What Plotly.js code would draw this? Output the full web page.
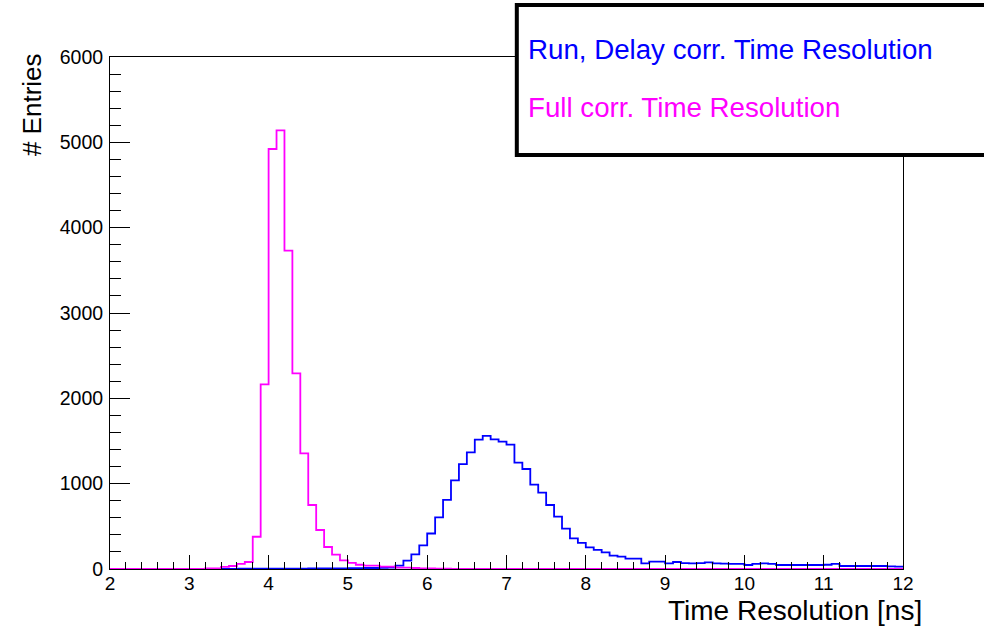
<!DOCTYPE html>
<html>
<head>
<meta charset="utf-8">
<script src="https://cdn.plot.ly/plotly-3.0.1.min.js"></script>
<style>
  html, body { margin: 0; padding: 0; background: #ffffff; }
  #plot { width: 984px; height: 629px; }
</style>
</head>
<body>
<div id="plot"></div>
<script>
// Histogram binning: 100 bins of 0.1 ns from 2 to 12 ns
const xMin = 2.0;
const binWidth = 0.1;

// Entries per bin, run + delay corrected time resolution
const runDelayCorr = [
  0, 0, 0, 0, 0, 0, 0, 0, 0, 0,
  0, 0, 0, 0, 2, 2, 3, 3, 3, 4,
  4, 4, 5, 5, 5, 6, 6, 7, 7, 8,
  9, 10, 12, 12, 14, 16, 39, 98, 172, 277,
  416, 605, 809, 1039, 1230, 1367, 1516, 1559, 1520, 1492,
  1457, 1246, 1172, 988, 894, 750, 613, 472, 359, 305,
  254, 223, 195, 156, 144, 121, 121, 66, 86, 86,
  66, 82, 68, 66, 70, 78, 66, 64, 59, 59,
  47, 59, 66, 59, 47, 47, 47, 47, 47, 47,
  50, 59, 35, 35, 35, 35, 35, 35, 31, 27
];

// Entries per bin, fully corrected time resolution
const fullCorr = [
  0, 0, 0, 0, 0, 0, 0, 0, 0, 0,
  0, 0, 8, 8, 25, 35, 59, 82, 378, 2164,
  4922, 5141, 3730, 2293, 1356, 750, 457, 258, 168, 102,
  72, 50, 39, 39, 27, 27, 16, 16, 12, 8,
  6, 4, 3, 0, 0, 0, 0, 0, 0, 0,
  0, 0, 0, 0, 0, 0, 0, 0, 0, 0,
  0, 0, 0, 0, 0, 0, 0, 0, 0, 0,
  0, 0, 0, 0, 0, 0, 0, 0, 0, 0,
  0, 0, 0, 0, 0, 0, 0, 0, 0, 0,
  0, 0, 0, 0, 0, 0, 0, 0, 0, 0
];

const xTitle = 'Time Resolution [ns]';
const yTitle = '# Entries';
const labelBlue = 'Run, Delay corr. Time Resolution';
const labelPink = 'Full corr. Time Resolution';

// Step outline of a histogram: left bin edges plus the closing edge
function stepTrace(counts, color) {
  const xs = [], ys = [];
  for (let i = 0; i < counts.length; i++) {
    xs.push(+(xMin + i * binWidth).toFixed(2));
    ys.push(counts[i]);
  }
  xs.push(+(xMin + counts.length * binWidth).toFixed(2));
  ys.push(counts[counts.length - 1]);
  return {
    type: 'scatter', mode: 'lines', x: xs, y: ys,
    line: { shape: 'hv', color: color, width: 1.8 },
    hoverinfo: 'skip', showlegend: false, cliponaxis: true
  };
}

const FONT = 'Liberation Sans, Arial, Helvetica, sans-serif';

const data = [
  stepTrace(runDelayCorr, '#0000ff'),
  stepTrace(fullCorr, '#ff00ff')
];

const layout = {
  width: 984, height: 629,
  margin: { l: 110, r: 81, t: 57, b: 60 },
  paper_bgcolor: '#ffffff', plot_bgcolor: '#ffffff',
  font: { family: FONT, color: '#000000', size: 19 },
  showlegend: false,
  xaxis: {
    range: [2, 12], dtick: 1, tick0: 2,
    showgrid: false, zeroline: false,
    showline: true, linecolor: '#000000', linewidth: 1, mirror: true,
    ticks: 'inside', ticklen: 14, tickwidth: 1, tickcolor: '#000000',
    minor: { ticks: 'inside', ticklen: 7, dtick: 0.2, tickcolor: '#000000', tickwidth: 1, showgrid: false },
    tickfont: { family: FONT, size: 19, color: '#000000' },
    ticklabelstandoff: -3
  },
  yaxis: {
    range: [0, 6000], dtick: 1000, tick0: 0,
    showgrid: false, zeroline: false,
    showline: true, linecolor: '#000000', linewidth: 1, mirror: true,
    ticks: 'inside', ticklen: 20, tickwidth: 1, tickcolor: '#000000',
    minor: { ticks: 'inside', ticklen: 11, dtick: 200, tickcolor: '#000000', tickwidth: 1, showgrid: false },
    tickfont: { family: FONT, size: 19.5, color: '#000000' },
    ticklabelstandoff: 2
  },
  shapes: [
    {
      type: 'rect', xref: 'paper', yref: 'paper', layer: 'above',
      x0: 0.513, x1: 1.12, y0: 0.8086, y1: 1.1016,
      line: { color: '#000000', width: 4 }, fillcolor: '#ffffff'
    }
  ],
  annotations: [
    {
      text: labelBlue, xref: 'paper', yref: 'paper',
      x: 0.524, y: 1.0156, xanchor: 'left', yanchor: 'middle',
      showarrow: false, font: { family: FONT, size: 27.7, color: '#0000ff' }
    },
    {
      text: labelPink, xref: 'paper', yref: 'paper',
      x: 0.524, y: 0.9023, xanchor: 'left', yanchor: 'middle',
      showarrow: false, font: { family: FONT, size: 27.7, color: '#ff00ff' }
    },
    {
      text: xTitle, xref: 'paper', yref: 'paper',
      x: 1.026, y: -0.082, xanchor: 'right', yanchor: 'middle',
      showarrow: false, font: { family: FONT, size: 28, color: '#000000' }
    },
    {
      text: yTitle, xref: 'paper', yref: 'paper',
      x: -0.0984, y: 0.908, xanchor: 'center', yanchor: 'middle', textangle: -90,
      showarrow: false, font: { family: FONT, size: 26, color: '#000000' }
    }
  ]
};

Plotly.newPlot('plot', data, layout, { staticPlot: true, displayModeBar: false });
</script>
</body>
</html>
